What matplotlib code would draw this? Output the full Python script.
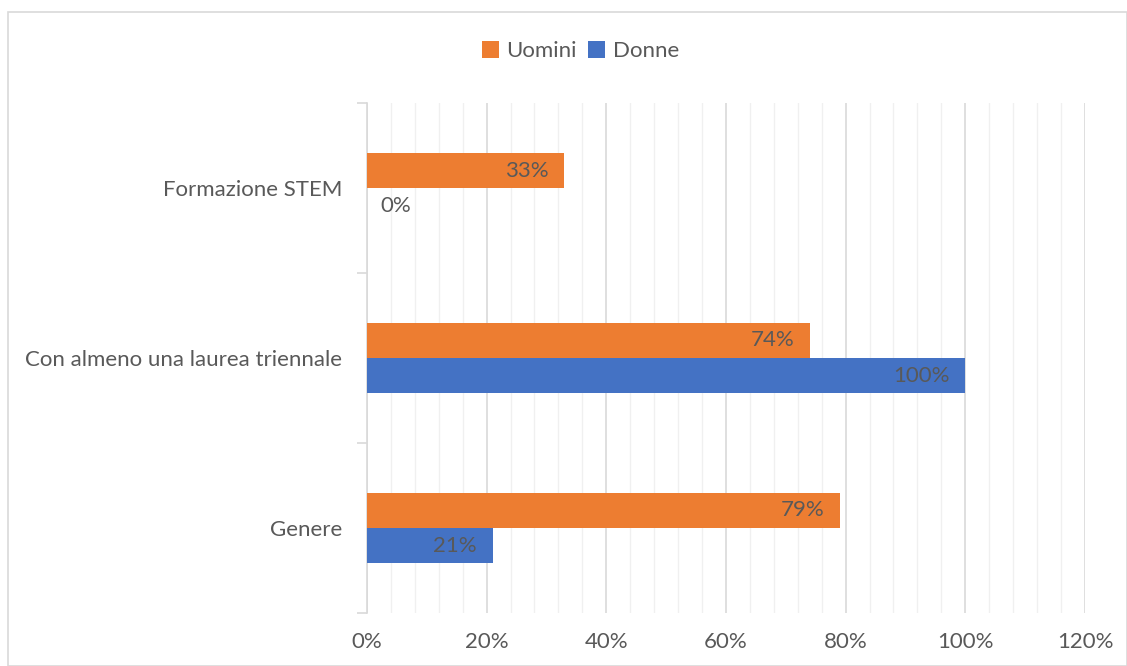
import matplotlib.pyplot as plt
import numpy as np
from matplotlib.ticker import MultipleLocator, PercentFormatter
from matplotlib.patches import Rectangle

categories = ["Genere", "Con almeno una laurea triennale", "Formazione STEM"]
uomini = [79, 74, 33]
donne = [21, 100, 0]

orange = "#ED7D31"
blue = "#4472C4"
grey_txt = "#595959"
fs = 16

plt.rcParams['font.family'] = ['Lato', 'DejaVu Sans']

fig = plt.figure(figsize=(11.27, 6.66), dpi=100)
ax = fig.add_axes([0.3256, 0.0796, 0.6371, 0.7657])

# outer frame like the Excel chart area
fig.patches.append(Rectangle((8 / 1127, 0), 1 - 8 / 1127, 1 - 12 / 666, transform=fig.transFigure,
                             fill=False, edgecolor="#D9D9D9", lw=1.2))

y = np.arange(len(categories))
h = 0.206
b1 = ax.barh(y + h / 2, uomini, height=h, color=orange, label="Uomini", zorder=3)
b2 = ax.barh(y - h / 2, donne, height=h, color=blue, label="Donne", zorder=3)

for bars, vals in ((b1, uomini), (b2, donne)):
    for bar, v in zip(bars, vals):
        yc = bar.get_y() + bar.get_height() / 2
        if v == 0:
            ax.text(2.3, yc, f"{v}%", ha="left", va="center", fontsize=fs, color=grey_txt, zorder=4)
        else:
            ax.text(v - 2.6, yc, f"{v}%", ha="right", va="center", fontsize=fs, color=grey_txt, zorder=4)

ax.set_xlim(0, 120)
ax.set_ylim(-0.5, 2.5)
ax.xaxis.set_major_locator(MultipleLocator(20))
ax.xaxis.set_minor_locator(MultipleLocator(4))
ax.xaxis.set_major_formatter(PercentFormatter(decimals=0))
ax.grid(axis="x", which="major", color="#D9D9D9", lw=1.2, zorder=0)
ax.grid(axis="x", which="minor", color="#F0F0F0", lw=1.0, zorder=0)
ax.tick_params(axis="x", which="both", length=0, labelsize=fs, labelcolor=grey_txt, pad=14)

ax.set_yticks(y)
ax.set_yticklabels(categories)
ax.set_yticks(np.arange(-0.5, 3.0, 1.0), minor=True)
ax.tick_params(axis="y", which="major", length=0, labelsize=fs, labelcolor=grey_txt, pad=18)
ax.tick_params(axis="y", which="minor", length=7, color="#D9D9D9", width=1.2)

for s in ("top", "right", "bottom"):
    ax.spines[s].set_visible(False)
ax.spines["left"].set_color("#D9D9D9")
ax.spines["left"].set_linewidth(1.2)

fig.legend(handles=[b1, b2], loc="center", bbox_to_anchor=(0.515, 0.923), ncol=2, frameon=False,
           fontsize=fs, labelcolor=grey_txt, handlelength=0.75, handleheight=0.75,
           handletextpad=0.35, columnspacing=0.5)

fig.savefig("out.png", dpi=100)
